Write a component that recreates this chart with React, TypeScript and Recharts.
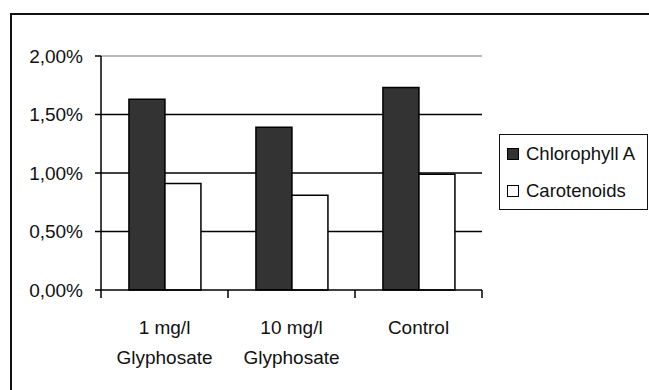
import React from 'react'
import { BarChart, Bar, XAxis, YAxis, CartesianGrid, ReferenceLine } from 'recharts'

// categories (line breaks split the tick labels)
const categories = ['1 mg/l\nGlyphosate', '10 mg/l\nGlyphosate', 'Control']
// values in percent
const chlorophyllA = [1.63, 1.39, 1.73]
const carotenoids = [0.91, 0.81, 0.99]
const yTicks = [0, 0.5, 1, 1.5, 2]
const gridValues = [0.5, 1, 1.5]

const series = [
  { key: 'chlorophyllA', name: 'Chlorophyll A', fill: '#333333' },
  { key: 'carotenoids', name: 'Carotenoids', fill: '#ffffff' },
]

const data = categories.map((c, i) => ({
  category: c,
  chlorophyllA: chlorophyllA[i],
  carotenoids: carotenoids[i],
}))

const FONT = '"Liberation Sans", Arial, sans-serif'

const fmtPct = (v: number) => v.toFixed(2).replace('.', ',') + '%'

const CategoryTick = (props: any) => {
  const { x, y, payload, index } = props
  const half = payload.offset || 0
  const lines = String(payload.value).split('\n')
  return (
    <g>
      <line x1={x - half} x2={x - half} y1={y} y2={y + 8} stroke="#000" strokeWidth={1.5} />
      {index === categories.length - 1 && (
        <line x1={x + half} x2={x + half} y1={y} y2={y + 8} stroke="#000" strokeWidth={1.5} />
      )}
      <text x={x} y={y} textAnchor="middle" fontSize={19} fontFamily={FONT} fill="#111">
        {lines.map((l, i) => (
          <tspan key={i} x={x} dy={i === 0 ? 44 : 30}>
            {l}
          </tspan>
        ))}
      </text>
    </g>
  )
}

const App: React.FC = () => {
  return (
    <div style={{ position: 'absolute', left: 0, top: 0, width: 649, height: 390, background: '#fff' }}>
      <div
        style={{
          position: 'absolute',
          left: 10,
          top: 13,
          width: 660,
          height: 400,
          border: '2px solid #111',
          boxSizing: 'border-box',
        }}
      />
      <div style={{ position: 'absolute', left: 0, top: 0 }}>
        <BarChart
          width={649}
          height={390}
          data={data}
          margin={{ top: 56, right: 167, bottom: 0, left: 0 }}
          barCategoryGap="22%"
          barGap={0}
        >
          <CartesianGrid
            vertical={false}
            horizontalValues={gridValues}
            stroke="#000"
            strokeWidth={1.5}
          />
          <ReferenceLine y={2} stroke="#bbbbbb" strokeWidth={2} />
          <XAxis
            dataKey="category"
            height={100}
            axisLine={{ stroke: '#000', strokeWidth: 1.5 }}
            tickLine={false}
            tickSize={0}
            tickMargin={0}
            interval={0}
            tick={<CategoryTick />}
          />
          <YAxis
            width={101}
            domain={[0, 2]}
            ticks={yTicks}
            tickFormatter={fmtPct}
            axisLine={{ stroke: '#000', strokeWidth: 1.5 }}
            tickLine={{ stroke: '#000', strokeWidth: 1.5 }}
            tickSize={6}
            tickMargin={12}
            tick={{ fontSize: 19, fontFamily: FONT, fill: '#111' }}
          />
          {series.map((s) => (
            <Bar
              key={s.key}
              dataKey={s.key}
              name={s.name}
              fill={s.fill}
              stroke="#000"
              strokeWidth={1.5}
              isAnimationActive={false}
            />
          ))}
        </BarChart>
      </div>
      <div
        style={{
          position: 'absolute',
          left: 499,
          top: 134,
          width: 149,
          height: 76,
          border: '1.5px solid #111',
          boxSizing: 'border-box',
          background: '#fff',
          fontFamily: FONT,
          fontSize: 18.5,
          color: '#111',
        }}
      >
        {series.map((s, i) => (
          <div
            key={s.key}
            style={{ position: 'absolute', left: 7, top: i === 0 ? 8 : 45, display: 'flex', alignItems: 'center', whiteSpace: 'nowrap' }}
          >
            <span
              style={{
                display: 'inline-block',
                width: 12,
                height: 12,
                background: s.fill,
                border: '1px solid #000',
                boxSizing: 'border-box',
                marginRight: 7,
              }}
            />
            <span>{s.name}</span>
          </div>
        ))}
      </div>
    </div>
  )
}

export default App
